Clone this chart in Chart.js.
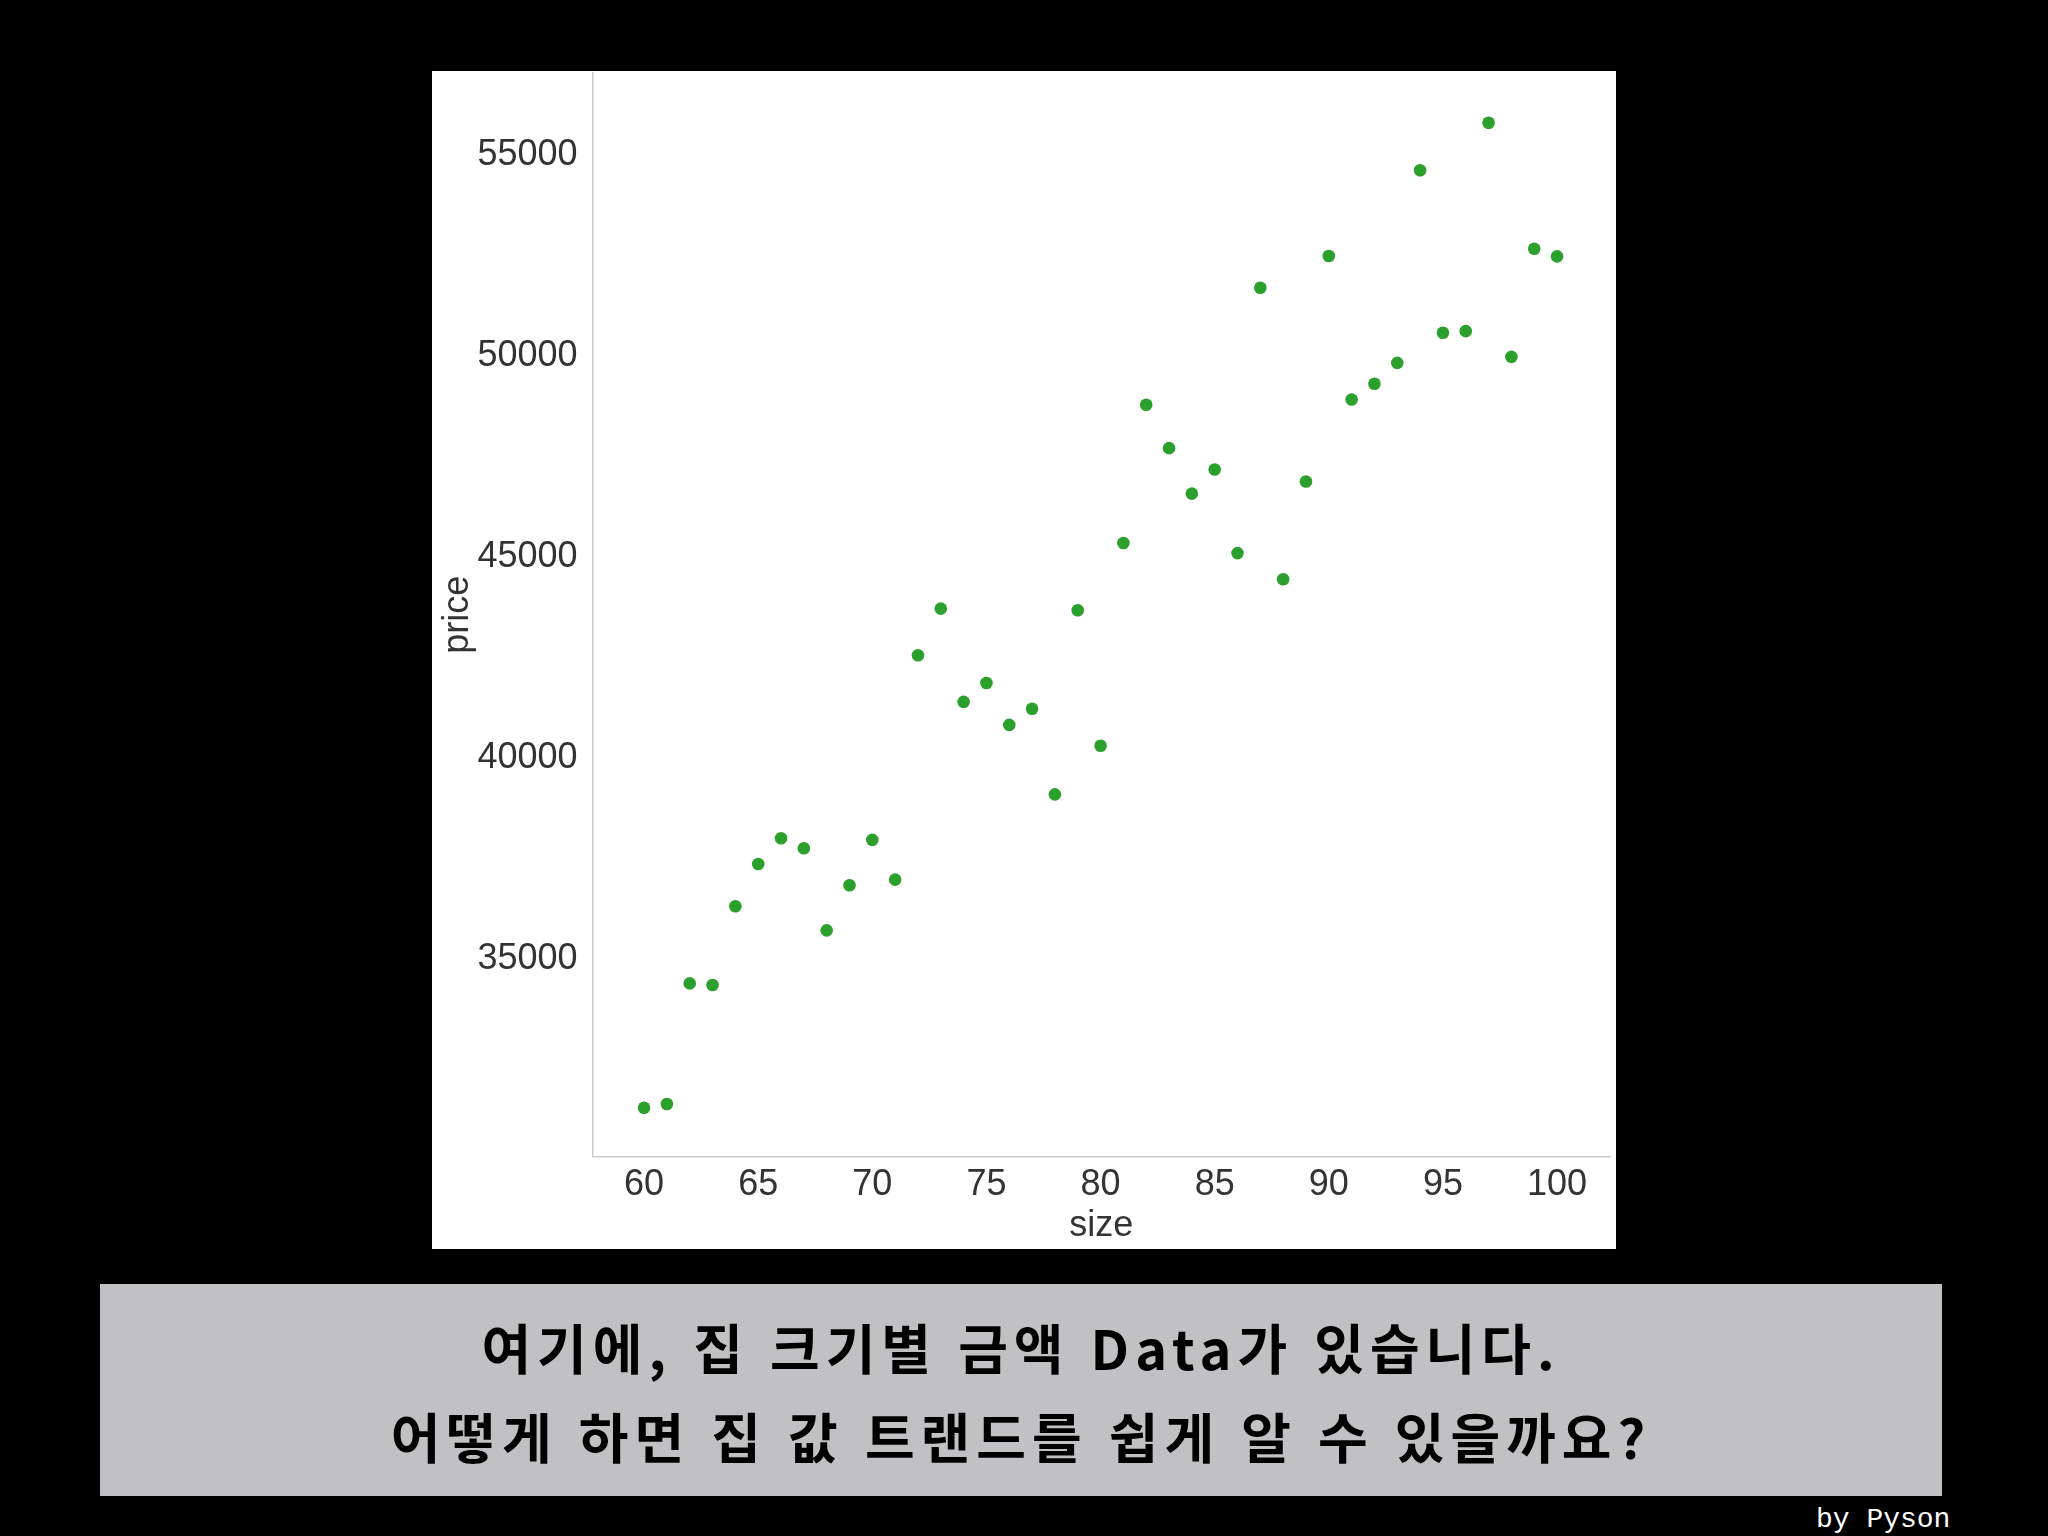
<!DOCTYPE html>
<html lang="ko">
<head>
  <meta charset="UTF-8">
  <title>집 크기별 금액</title>
  <script src="https://cdn.jsdelivr.net/npm/chart.js"></script>
  <style>
    html, body {
      margin: 0;
      width: 2048px;
      height: 1536px;
      background: #000;
      overflow: hidden;
      position: relative;
    }
    #panel {
      position: absolute;
      left: 432px;
      top: 71px;
      width: 1184px;
      height: 1178px;
      background: #fff;
    }
    #caption {
      position: absolute;
      left: 100px;
      top: 1284px;
      width: 1842px;
      height: 212px;
      box-sizing: border-box;
      padding-top: 18px;
      background: #c1c0c2;
      color: #000;
      text-align: center;
      font-family: "Noto Sans CJK KR", sans-serif;
      font-weight: 700;
      font-size: 54px;
      line-height: 89px;
      letter-spacing: 6px;
    }
    #sign {
      position: absolute;
      left: 1816px;
      top: 1504px;
      color: #fff;
      font-family: "Liberation Mono", monospace;
      font-size: 28px;
    }
  </style>
</head>
<body>

<div id="panel"><canvas id="scatterChart" width="1184" height="1178"></canvas></div>
<div id="caption">여기에, 집 크기별 금액 Data가 있습니다.<br>어떻게 하면 집 값 트랜드를 쉽게 알 수 있을까요?</div>
<div id="sign">by Pyson</div>

<script>
// house size (x) and price (y)
const sizes = [60, 61, 62, 63, 64, 65, 66, 67, 68, 69, 70, 71, 72, 73, 74, 75, 76, 77, 78, 79, 80,
               81, 82, 83, 84, 85, 86, 87, 88, 89, 90, 91, 92, 93, 94, 95, 96, 97, 98, 99, 100];
const prices = [31310, 31400, 34400, 34360, 36320, 37370, 38010, 37760, 35720, 36840, 37970,
                36980, 42560, 43720, 41400, 41870, 40830, 41230, 39100, 43680, 40310,
                45350, 48790, 47710, 46580, 47180, 45100, 51700, 44450, 46880, 52490,
                48920, 49310, 49830, 54620, 50580, 50620, 55800, 49980, 52670, 52480];

const xTicks = [60, 65, 70, 75, 80, 85, 90, 95, 100];
const yTicks = [35000, 40000, 45000, 50000, 55000];

const points = sizes.map((s, i) => ({ x: s, y: prices[i] }));

const tickFont = { family: 'Liberation Sans', size: 36 };
const textColor = '#333';

new Chart(document.getElementById('scatterChart'), {
  type: 'scatter',
  data: {
    datasets: [{
      data: points,
      backgroundColor: '#2ca02c',
      borderWidth: 0,
      pointRadius: 6.3,
      pointHoverRadius: 6.3
    }]
  },
  options: {
    responsive: false,
    animation: false,
    layout: { autoPadding: false, padding: { left: 0, right: 6, top: 2, bottom: 0 } },
    plugins: {
      legend: { display: false },
      tooltip: { enabled: false }
    },
    scales: {
      x: {
        type: 'linear',
        min: 57.74,
        max: 102.32,
        afterFit: s => { s.height = 92.5; s.paddingLeft = 0; s.paddingRight = 0; },
        afterBuildTicks: s => { s.ticks = xTicks.map(v => ({ value: v })); },
        grid: { display: false, drawTicks: false },
        border: { display: true, color: '#cccccc', width: 1.5 },
        ticks: {
          color: textColor,
          font: tickFont,
          padding: 7,
          maxRotation: 0,
          autoSkip: false,
          callback: v => String(v)
        },
        title: {
          display: true,
          text: 'size',
          color: textColor,
          font: tickFont,
          padding: { top: 0, bottom: 1 }
        }
      },
      y: {
        type: 'linear',
        min: 30096,
        max: 57039,
        afterFit: s => { s.width = 160.5; s.paddingTop = 0; s.paddingBottom = 0; },
        afterBuildTicks: s => { s.ticks = yTicks.map(v => ({ value: v })); },
        grid: { display: false, drawTicks: false },
        border: { display: true, color: '#cccccc', width: 1.5 },
        ticks: {
          color: textColor,
          font: tickFont,
          padding: 15,
          autoSkip: false,
          callback: v => String(v)
        },
        title: {
          display: true,
          text: 'price',
          color: textColor,
          font: tickFont,
          padding: { top: 4, bottom: 0 }
        }
      }
    }
  }
});
</script>

</body>
</html>
